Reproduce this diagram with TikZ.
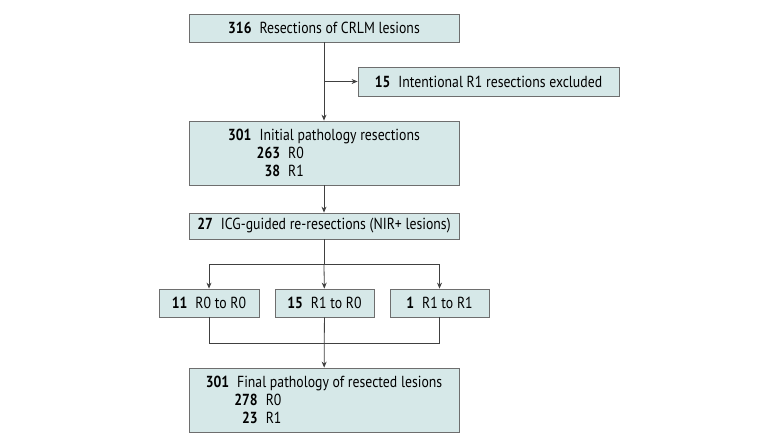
\documentclass[tikz,border=0pt]{standalone}
\usepackage{fontspec}
\setmainfont[FakeStretch=0.86]{PT Sans}
\usetikzlibrary{arrows.meta}
\definecolor{boxfill}{RGB}{214,232,232}
\definecolor{boxline}{RGB}{110,110,110}
\newcommand{\subcnt}[1]{\makebox[52pt][r]{\textbf{#1}}\enspace}
\begin{document}
\begin{tikzpicture}[x=1pt,y=-1pt,
  flowbox/.style={rectangle, draw=boxline, fill=boxfill, line width=0.8pt,
    inner sep=0pt, font=\fontsize{16}{18}\selectfont},
  bigbox/.style={flowbox, align=left, minimum width=270pt, minimum height=64pt},
  myarrow/.style={-{Stealth[length=6pt,width=5pt]}},
  line width=0.8pt, draw=black!75]

\useasboundingbox (0,0) rectangle (780,445);

\node[flowbox,minimum width=270pt,minimum height=28pt] (start) at (324,28)
  {\textbf{316}\enspace Resections of CRLM lesions};
\node[flowbox,minimum width=261pt,minimum height=29pt] (excl) at (488.5,81.5)
  {\textbf{15}\enspace Intentional R1 resections excluded};
\node[bigbox] (initial) at (324,153)
  {\textbf{301}\enspace Initial pathology resections\\ \subcnt{263}R0\\ \subcnt{38}R1};
\node[flowbox,minimum width=270pt,minimum height=26pt] (icg) at (324,226)
  {\textbf{27}\enspace ICG-guided re-resections (NIR+ lesions)};

\node[flowbox,minimum width=100pt,minimum height=28pt] (r00) at (209,303)
  {\textbf{11}\enspace R0 to R0};
\node[flowbox,minimum width=99pt,minimum height=28pt] (r10) at (324.5,303)
  {\textbf{15}\enspace R1 to R0};
\node[flowbox,minimum width=99pt,minimum height=28pt] (r11) at (439.5,303)
  {\textbf{1}\enspace R1 to R1};

\node[bigbox] (final) at (324,400)
  {\textbf{301}\enspace Final pathology of resected lesions\\ \subcnt{278}R0\\ \subcnt{23}R1};

% exclusion branch
\coordinate (fork) at (start.south |- excl.west);
\draw[myarrow] (start) -- (initial);
\draw[myarrow] (fork) -- (excl);
\draw[myarrow] (initial) -- (icg);

% split into the three outcomes
\coordinate (split) at (324,264);
\draw (icg) -- (split);
\draw (r00 |- split) -- (r11 |- split);
\draw[myarrow] (r00 |- split) -- (r00);
\draw[myarrow] (split) -- (r10);
\draw[myarrow] (r11 |- split) -- (r11);

% merge
\coordinate (merge) at (324,343);
\draw (r00) -- (r00 |- merge) -- (r11 |- merge) -- (r11);
\draw[myarrow] (r10) -- (final);

\end{tikzpicture}
\end{document}
